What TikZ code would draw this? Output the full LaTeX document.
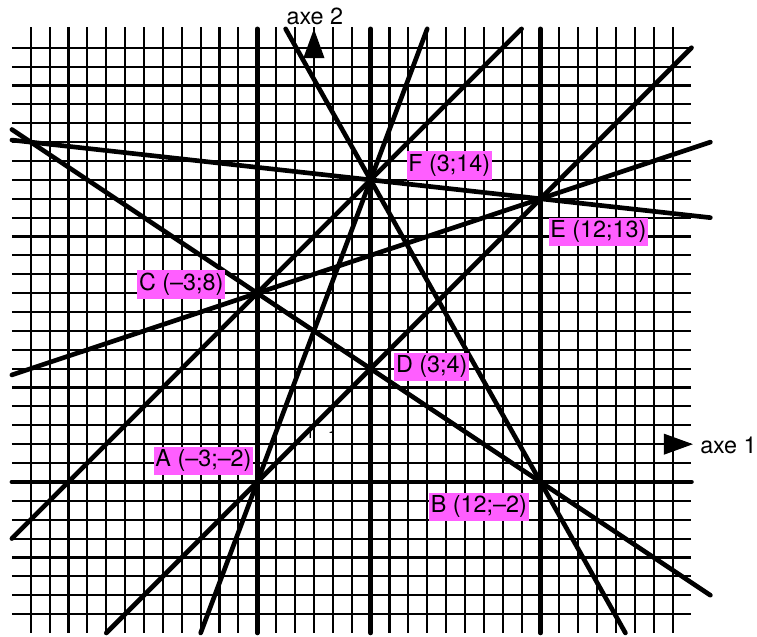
\documentclass[tikz,border=0pt]{standalone}
\usepackage{fontspec}
\setmainfont{TeX Gyre Heros}
\usetikzlibrary{arrows.meta}
\definecolor{rose}{RGB}{255,94,255}

\begin{document}
\begin{tikzpicture}[x=0.5cm, y=0.5cm, font=\fontsize{17.6}{20}\selectfont,
    grille/.style={line width=1.6pt},
    droite/.style={line width=3.5pt, line cap=round},
    axe/.style={line width=1.6pt, -{Triangle[length=22pt, width=15.5pt]}},
    etiquette/.style={fill=rose, inner xsep=1.2pt, inner ysep=0pt,
      text height=15pt, text depth=6.3pt}]
  \useasboundingbox (-16.63,-10.21) rectangle (23.47,23.53);
  % --- unit marks (under the grid) ---
  \node[font=\fontsize{12}{13}\selectfont] (un2) at (-0.2,0.62) {1};
  \node[font=\fontsize{12}{13}\selectfont] (un1) at (0.99,0.42) {1};
  % --- grid ---
  \foreach \x in {-15,...,19}
    \draw[grille] (\x,-10) -- (\x,22.1);
  \foreach \y in {-9,...,21}
    \draw[grille] (-16,\y) -- (20,\y);
  % --- axes ---
  \draw[axe] (0,-10) -- (0,22);
  \draw[axe] (-16,0) -- (20.08,0);
  \node[anchor=base] (axe2) at (0.05,22.24) {axe 2};
  \node[anchor=base west, inner sep=0pt] (axe1) at (20.45,-0.48) {axe 1};
  % --- points ---
  \coordinate (A) at (-3,-2);
  \coordinate (B) at (12,-2);
  \coordinate (C) at (-3,8);
  \coordinate (D) at (3,4);
  \coordinate (E) at (12,13);
  \coordinate (F) at (3,14);
  % --- lines through two points, extended to the grid border ---
  \draw[droite] (-16,-2) -- (A) -- (B) -- (20,-2);
  \draw[droite] (-3,-10) -- (A) -- (C) -- (-3,22);
  \draw[droite] (3,-10) -- (D) -- (F) -- (3,22);
  \draw[droite] (12,-10) -- (B) -- (E) -- (12,22);
  \draw[droite] (-16,16.67) -- (C) -- (D) -- (B) -- (21,-8);
  \draw[droite] (-16,16.11) -- (F) -- (E) -- (21,12);
  \draw[droite] (-16,3.67) -- (C) -- (E) -- (21,16);
  \draw[droite] (-16,-5) -- (C) -- (F) -- (11,22);
  \draw[droite] (-11,-10) -- (A) -- (D) -- (E) -- (20,21);
  \draw[droite] (-6,-10) -- (A) -- (F) -- (6,22);
  \draw[droite] (-1.5,22) -- (F) -- (B) -- (16.5,-10);
  % --- labels ---
  \node[etiquette] (lA) at (-5.85,-0.88) {A (–3;–2)};
  \node[etiquette] (lB) at (8.74,-3.31) {B (12;–2)};
  \node[etiquette] (lC) at (-7.03,8.46) {C (–3;8)};
  \node[etiquette] (lD) at (6.24,4.09) {D (3;4)};
  \node[etiquette] (lE) at (15.07,11.24) {E (12;13)};
  \node[etiquette] (lF) at (7.17,14.76) {F (3;14)};
\end{tikzpicture}
\end{document}
